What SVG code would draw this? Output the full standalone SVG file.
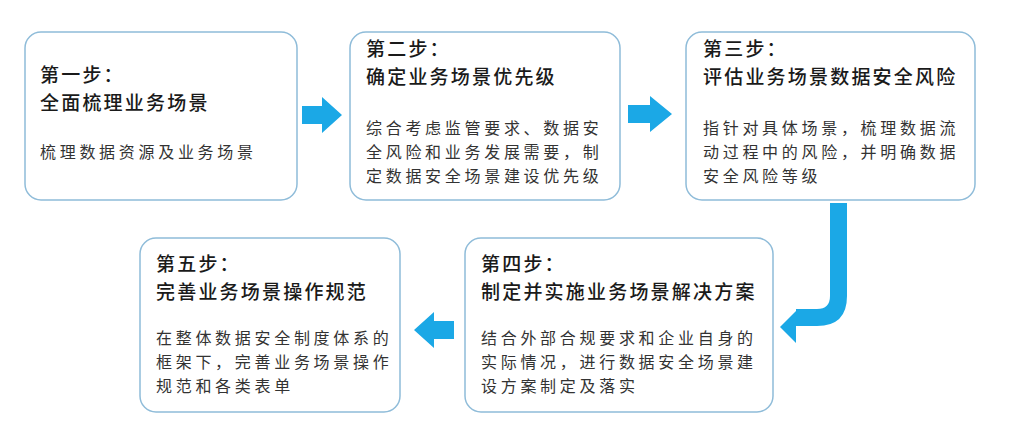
<svg xmlns="http://www.w3.org/2000/svg" width="1028" height="441" viewBox="0 0 1028 441">
<style>
.box{fill:#fff;stroke:#8fbcd9;stroke-width:1.5}
.t{font-family:"Noto Sans CJK SC",sans-serif;font-size:19px;font-weight:500;fill:#1a1a1a;letter-spacing:2.2px}
.b{font-family:"Noto Sans CJK SC",sans-serif;font-size:16px;fill:#333;letter-spacing:3.7px}
.a{fill:#1ba8e6}
</style>
<rect width="1028" height="441" fill="#fff"/>
<g id="n1"><rect class="box" x="25" y="32" width="272" height="168" rx="16"/>
<text class="t" x="40" y="82">第一步：</text><text class="t" x="40" y="110">全面梳理业务场景</text>
<text class="b" x="40" y="158">梳理数据资源及业务场景</text></g>
<g id="n2"><rect class="box" x="350" y="32" width="270" height="168" rx="16"/>
<text class="t" x="366" y="56">第二步：</text><text class="t" x="366" y="84">确定业务场景优先级</text>
<text class="b" x="366" y="134">综合考虑监管要求、数据安</text><text class="b" x="366" y="158">全风险和业务发展需要，制</text><text class="b" x="366" y="182">定数据安全场景建设优先级</text></g>
<g id="n3"><rect class="box" x="686" y="32" width="289" height="168" rx="16"/>
<text class="t" x="703" y="56">第三步：</text><text class="t" x="703" y="84">评估业务场景数据安全风险</text>
<text class="b" x="703" y="134">指针对具体场景，梳理数据流</text><text class="b" x="703" y="158">动过程中的风险，并明确数据</text><text class="b" x="703" y="182">安全风险等级</text></g>
<g id="n4"><rect class="box" x="465" y="238" width="308" height="174" rx="16"/>
<text class="t" x="481" y="271">第四步：</text><text class="t" x="481" y="299">制定并实施业务场景解决方案</text>
<text class="b" x="481" y="344">结合外部合规要求和企业自身的</text><text class="b" x="481" y="368">实际情况，进行数据安全场景建</text><text class="b" x="481" y="392">设方案制定及落实</text></g>
<g id="n5"><rect class="box" x="140" y="238" width="260" height="174" rx="16"/>
<text class="t" x="156" y="271">第五步：</text><text class="t" x="156" y="299">完善业务场景操作规范</text>
<text class="b" x="156" y="344">在整体数据安全制度体系的</text><text class="b" x="156" y="368">框架下，完善业务场景操作</text><text class="b" x="156" y="392">规范和各类表单</text></g>
<g id="connectors">
<polygon class="a" points="302,106 322,106 322,97 342,115 322,133 322,124 302,124"/>
<polygon class="a" points="628,105 650,105 650,96 672,114 650,132 650,123 628,123"/>
<polygon class="a" points="454,321 434,321 434,312 414,330 434,348 434,339 454,339"/>
<path class="a" d="M830,203 H847 V296 Q847,326 817,326 H796 V343 L780,327 L796,311 V309 H817 Q830,309 830,296 Z"/>
</g>
</svg>
